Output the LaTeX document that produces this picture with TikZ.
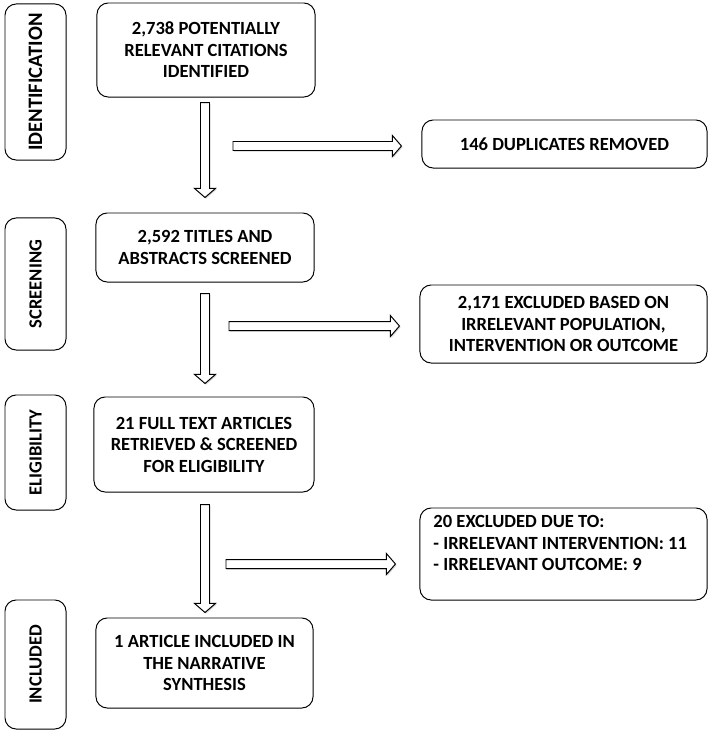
\documentclass[tikz,border=0pt]{standalone}
\usepackage{fontspec}
\setmainfont{Carlito}
\usetikzlibrary{positioning,calc,shadows}

\tikzset{
  box/.style={draw, rounded corners=8pt, line width=0.7pt, align=center,
    font=\fontsize{13.2}{15.3}\selectfont\bfseries, inner sep=2pt},
  phase/.style={box, rotate=90, minimum height=1.525cm},
  fat/.style={draw, fill=white, line width=0.7pt, line join=miter,
    drop shadow={opacity=0.35, shadow xshift=0.8pt, shadow yshift=-0.8pt},
    to path={
      ($(\tikztostart)!3.2pt!90:(\tikztotarget)$)
      -- ($($(\tikztotarget)!6.5pt!(\tikztostart)$)!3.2pt!-90:(\tikztostart)$)
      -- ($($(\tikztotarget)!6.5pt!(\tikztostart)$)!7.5pt!-90:(\tikztostart)$)
      -- (\tikztotarget)
      -- ($($(\tikztotarget)!6.5pt!(\tikztostart)$)!7.5pt!90:(\tikztostart)$)
      -- ($($(\tikztotarget)!6.5pt!(\tikztostart)$)!3.2pt!90:(\tikztostart)$)
      -- ($(\tikztostart)!3.2pt!-90:(\tikztotarget)$)
      -- cycle}},
}

\begin{document}
\begin{tikzpicture}[x=0.025cm, y=-0.025cm]
  \useasboundingbox (0,0) rectangle (711,733);
  % phases
  \node[phase, minimum width=3.9cm, font=\fontsize{14.6}{16}\selectfont\bfseries] (ident) at (35.5,82) {IDENTIFICATION};
  \node[phase, minimum width=3.3cm]   (scr)   at (35.5,284) {SCREENING};
  \node[phase, minimum width=2.875cm] (elig)  at (35.5,452.5) {ELIGIBILITY};
  \node[phase, minimum width=3.225cm] (incl)  at (35.5,664.5) {INCLUDED};

  % main flow
  \node[box, minimum width=5.45cm, minimum height=2.35cm]  (cite)   at (206,50)    {2,738 POTENTIALLY\\RELEVANT CITATIONS\\IDENTIFIED};
  \node[box, minimum width=5.45cm, minimum height=1.725cm] (screen) at (205,247.5) {2,592 TITLES AND\\ABSTRACTS SCREENED};
  \node[box, minimum width=5.5cm, minimum height=2.375cm]  (full)   at (204,444.5) {21 FULL TEXT ARTICLES\\RETRIEVED \& SCREENED\\FOR ELIGIBILITY};
  \node[box, minimum width=5.425cm, minimum height=2.25cm] (synth)  at (204.5,663) {1 ARTICLE INCLUDED IN\\THE NARRATIVE\\SYNTHESIS};

  % exclusions
  \node[box, minimum width=7.125cm, minimum height=1.2cm]  (dup)   at (564.5,144) {146 DUPLICATES REMOVED};
  \node[box, minimum width=7.175cm, minimum height=1.95cm] (excl)  at (563.5,324) {2,171 EXCLUDED BASED ON\\IRRELEVANT POPULATION,\\INTERVENTION OR OUTCOME};
  \node[box, minimum width=7.175cm, minimum height=2.3cm, align=flush left, text width=6.5cm] (reason) at (563.5,554)
    {20 EXCLUDED DUE TO:\\- IRRELEVANT INTERVENTION: 11\\- IRRELEVANT OUTCOME: 9\\\mbox{}};

  % arrow ends
  \coordinate (v1a) at ($(cite.south -| 205,0)+(0,5)$);
  \coordinate (v1b) at ($(screen.north -| 205,0)+(0,-15)$);
  \coordinate (v2a) at ($(screen.south -| 205,0)+(0,11)$);
  \coordinate (v2b) at ($(full.north -| 205,0)+(0,-13)$);
  \coordinate (v3a) at ($(full.south -| 205,0)+(0,12)$);
  \coordinate (v3b) at ($(synth.north -| 205,0)+(0,-5)$);
  \coordinate (h1a) at (233,146);
  \coordinate (h1b) at ($(h1a -| dup.west)+(-20,0)$);
  \coordinate (h2a) at (229,326);
  \coordinate (h2b) at ($(h2a -| excl.west)+(-20,0)$);
  \coordinate (h3a) at (226,564);
  \coordinate (h3b) at ($(h3a -| reason.west)+(-24,0)$);

  \path[fat] (v1a) to (v1b);
  \path[fat] (v2a) to (v2b);
  \path[fat] (v3a) to (v3b);
  \path[fat] (h1a) to (h1b);
  \path[fat] (h2a) to (h2b);
  \path[fat] (h3a) to (h3b);
\end{tikzpicture}
\end{document}
